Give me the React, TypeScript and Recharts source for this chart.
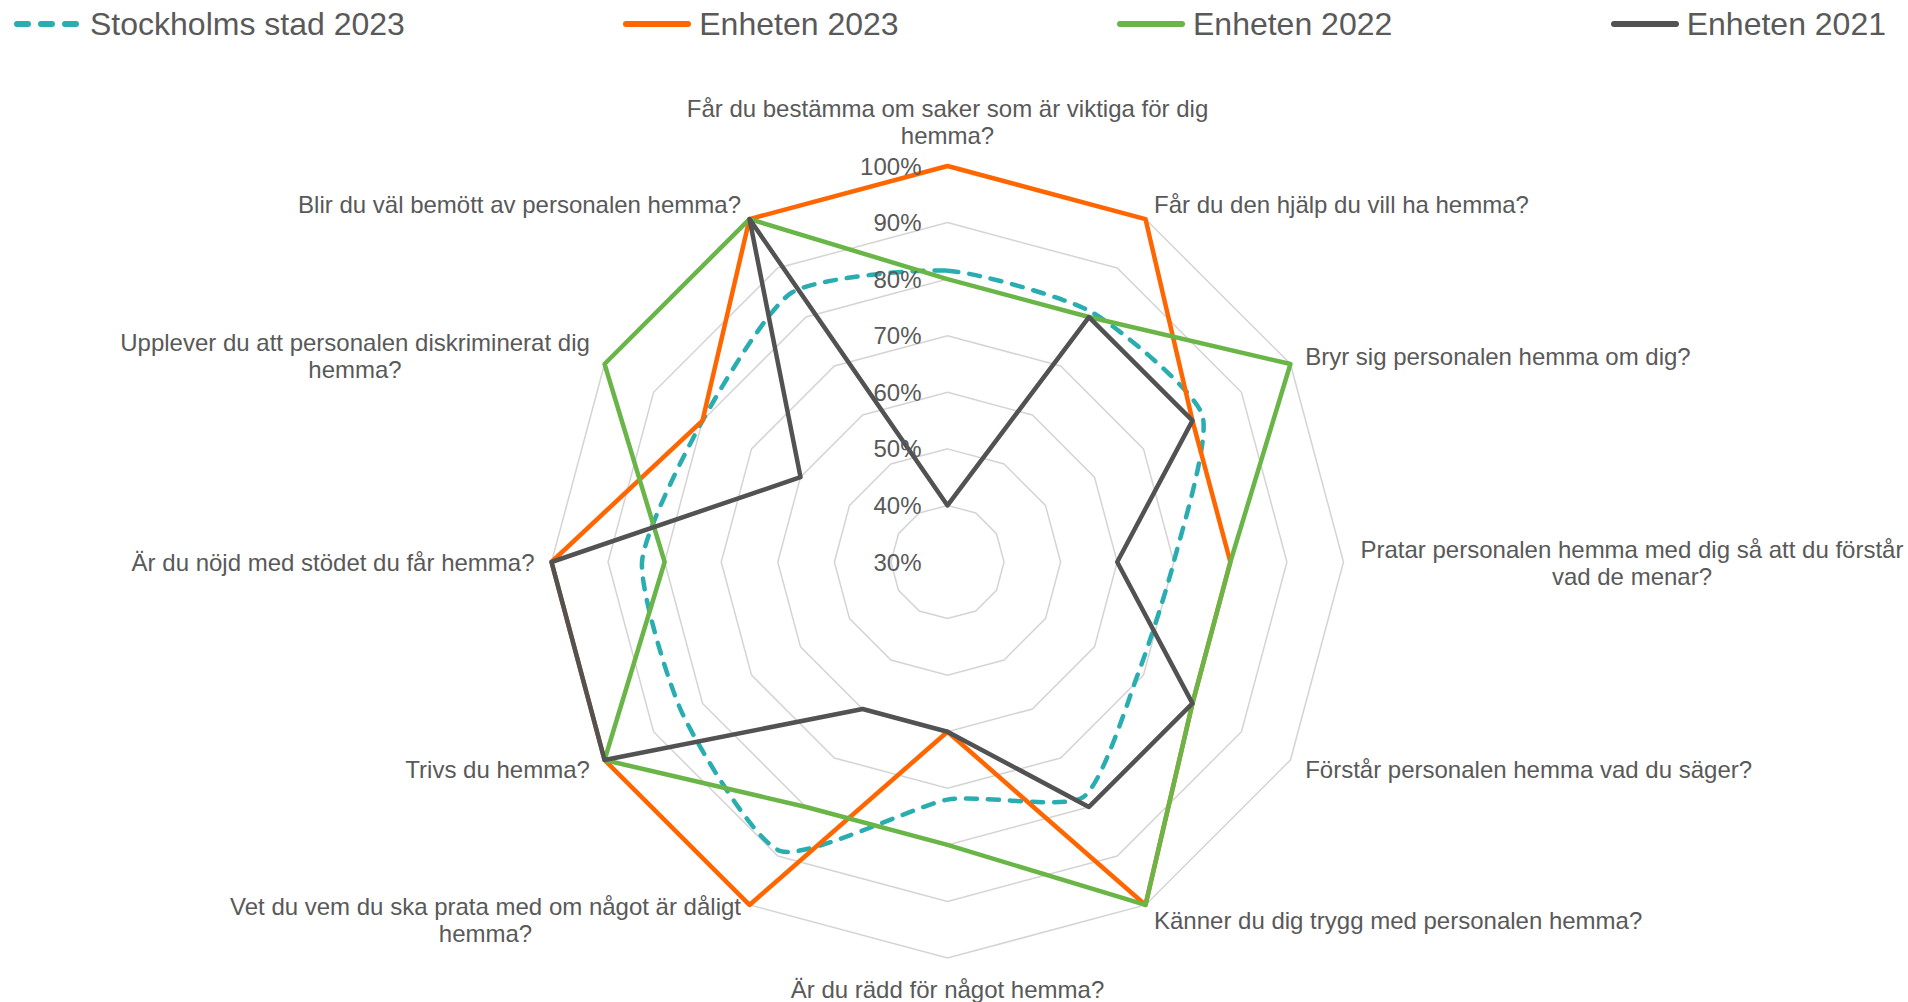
import React from 'react';
import { RadarChart, Radar, PolarGrid, PolarAngleAxis, PolarRadiusAxis } from 'recharts';

const categories = [
  'Får du bestämma om saker som är viktiga för dig hemma?',
  'Får du den hjälp du vill ha hemma?',
  'Bryr sig personalen hemma om dig?',
  'Pratar personalen hemma med dig så att du förstår vad de menar?',
  'Förstår personalen hemma vad du säger?',
  'Känner du dig trygg med personalen hemma?',
  'Är du rädd för något hemma?',
  'Vet du vem du ska prata med om något är dåligt hemma?',
  'Trivs du hemma?',
  'Är du nöjd med stödet du får hemma?',
  'Upplever du att personalen diskriminerat dig hemma?',
  'Blir du väl bemött av personalen hemma?',
];

const stockholm2023 = [81.5, 81, 82, 70, 69, 78, 72, 89, 84, 84, 80, 85];
const enheten2023 = [100, 100, 80, 80, 80, 100, 60, 100, 100, 100, 80, 100];
const enheten2022 = [80, 80, 100, 80, 80, 100, 80, 80, 100, 80, 100, 100];
const enheten2021 = [40, 80, 80, 60, 80, 80, 60, 60, 100, 100, 60, 100];

const radiusTicks = [30, 40, 50, 60, 70, 80, 90, 100];

const series = [
  { key: 's2023', name: 'Stockholms stad 2023', values: stockholm2023, color: '#2AADB0', dashed: true },
  { key: 'e2023', name: 'Enheten 2023', values: enheten2023, color: '#FF6600', dashed: false },
  { key: 'e2022', name: 'Enheten 2022', values: enheten2022, color: '#6AB547', dashed: false },
  { key: 'e2021', name: 'Enheten 2021', values: enheten2021, color: '#525252', dashed: false },
];

const data = categories.map((category, i) => {
  const row: Record<string, any> = { category };
  series.forEach((s) => (row[s.key] = s.values[i]));
  return row;
});

const W = 1908;
const H = 1002;
const CX = 947.5;
const CY = 562;
const R = 396;
const FONT = '"Liberation Sans", Arial, sans-serif';
const TEXT = '#595959';
const LABEL_SIZE = 24;
const LINE_H = 27;

let ctx: CanvasRenderingContext2D | null = null;
const measure = (s: string) => {
  if (!ctx) ctx = document.createElement('canvas').getContext('2d');
  if (!ctx) return s.length * 12;
  ctx.font = `${LABEL_SIZE}px ${FONT}`;
  return ctx.measureText(s).width;
};

const wrap = (s: string) => {
  if (s.length <= 45) return [s];
  const words = s.split(' ');
  const lines: string[] = [];
  let cur = '';
  words.forEach((w) => {
    const next = cur ? cur + ' ' + w : w;
    if (next.length > 49 && cur) {
      lines.push(cur);
      cur = w;
    } else cur = next;
  });
  if (cur) lines.push(cur);
  return lines;
};

const CategoryTick = (props: any) => {
  const { x, y, payload } = props;
  const dx = x - CX;
  const dy = y - CY;
  const len = Math.sqrt(dx * dx + dy * dy) || 1;
  const ux = dx / len;
  const uy = dy / len;
  const vx = CX + R * ux;
  const vy = CY + R * uy;
  const lines = wrap(String(payload.value));
  const n = lines.length;
  let ys: number[] = [];
  let xs: number[] = [];
  let anchor: 'start' | 'middle' | 'end' = 'middle';

  if (Math.abs(ux) < 0.01) {
    if (uy < 0) ys = lines.map((_, i) => vy - 31 - (n - 1 - i) * LINE_H);
    else ys = lines.map((_, i) => vy + 30.5 + i * LINE_H);
    xs = lines.map(() => vx);
  } else {
    const centerY = vy + 17 * uy;
    ys = lines.map((_, i) => centerY + (i - (n - 1) / 2) * LINE_H);
    const edge = vx + 17 * ux;
    if (n === 1) {
      anchor = ux > 0 ? 'start' : 'end';
      xs = [edge];
    } else {
      const bw = Math.max(...lines.map(measure));
      const mid = ux > 0 ? edge + bw / 2 : edge - bw / 2;
      xs = lines.map(() => mid);
    }
  }

  return (
    <text fontFamily={FONT} fontSize={LABEL_SIZE} fill={TEXT} textAnchor={anchor} dominantBaseline="central">
      {lines.map((l, i) => (
        <tspan key={i} x={xs[i]} y={ys[i]}>
          {l}
        </tspan>
      ))}
    </text>
  );
};

const RadiusTick = (props: any) => {
  const { x, y, payload } = props;
  return (
    <text x={x - 26} y={y} fontFamily={FONT} fontSize={LABEL_SIZE} fill={TEXT} textAnchor="end" dominantBaseline="central">
      {`${payload.value}%`}
    </text>
  );
};

// closed cardinal spline through the radar points, like Excel's smoothed line
const SmoothShape = (props: any) => {
  const pts = props.points || [];
  const n = pts.length;
  if (!n) return null;
  const t = 0.1;
  let d = `M${pts[0].x},${pts[0].y}`;
  for (let i = 0; i < n; i++) {
    const p0 = pts[(i - 1 + n) % n];
    const p1 = pts[i];
    const p2 = pts[(i + 1) % n];
    const p3 = pts[(i + 2) % n];
    const c1x = p1.x + (p2.x - p0.x) * t;
    const c1y = p1.y + (p2.y - p0.y) * t;
    const c2x = p2.x - (p3.x - p1.x) * t;
    const c2y = p2.y - (p3.y - p1.y) * t;
    d += `C${c1x},${c1y} ${c2x},${c2y} ${p2.x},${p2.y}`;
  }
  return (
    <path
      d={d + 'Z'}
      fill="none"
      stroke={props.stroke}
      strokeWidth={props.strokeWidth}
      strokeDasharray={props.strokeDasharray}
      strokeLinecap="round"
      strokeLinejoin="round"
    />
  );
};

const Legend = () => (
  <div
    style={{
      position: 'absolute',
      top: 0,
      left: 13,
      width: 1886 - 13,
      height: 48,
      display: 'flex',
      justifyContent: 'space-between',
      alignItems: 'center',
      fontFamily: FONT,
      fontSize: 32,
      color: TEXT,
    }}
  >
    {series.map((s) => (
      <div key={s.key} style={{ display: 'flex', alignItems: 'center' }}>
        <svg width={70} height={12} style={{ marginRight: 7 }}>
          <line
            x1={4}
            y1={6}
            x2={s.dashed ? 65 : 66}
            y2={6}
            stroke={s.color}
            strokeWidth={6}
            strokeLinecap="round"
            strokeDasharray={s.dashed ? '11 13' : undefined}
          />
        </svg>
        <span style={{ whiteSpace: 'nowrap' }}>{s.name}</span>
      </div>
    ))}
  </div>
);

export default function App() {
  return (
    <div style={{ position: 'absolute', left: 0, top: 0, width: W, height: H, background: '#fff', overflow: 'hidden' }}>
      <RadarChart
        width={W}
        height={H}
        data={data}
        cx={CX}
        cy={CY}
        outerRadius={R}
        startAngle={90}
        endAngle={-270}
        margin={{ top: 0, right: 0, bottom: 0, left: 0 }}
      >
        <PolarGrid gridType="polygon" radialLines={false} stroke="#D4D4D4" strokeWidth={1.5} />
        <PolarAngleAxis dataKey="category" tick={<CategoryTick />} tickLine={false} axisLine={false} />
        <PolarRadiusAxis
          angle={90}
          type="number"
          domain={[30, 100]}
          ticks={radiusTicks}
          tick={<RadiusTick />}
          axisLine={false}
          tickLine={false}
        />
        {series.map((s) => (
          <Radar
            key={s.key}
            name={s.name}
            dataKey={s.key}
            stroke={s.color}
            strokeWidth={4.5}
            strokeDasharray={s.dashed ? '11 11' : undefined}
            strokeLinejoin="round"
            fill="none"
            fillOpacity={0}
            dot={false}
            isAnimationActive={false}
            shape={s.dashed ? SmoothShape : undefined}
          />
        ))}
      </RadarChart>
      <Legend />
    </div>
  );
}
